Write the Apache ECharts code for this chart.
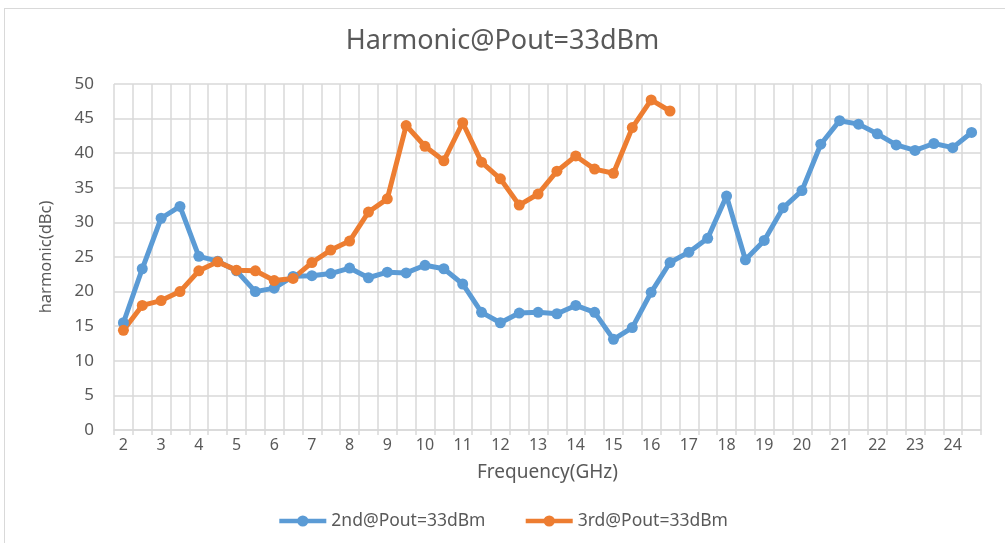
<!DOCTYPE html>
<html>
<head>
<meta charset="utf-8">
<script src="https://cdn.jsdelivr.net/npm/echarts@6/dist/echarts.min.js"></script>
<style>
    html, body { margin: 0; padding: 0; background: #fff; }
    #moldura { position: absolute; left: 4px; top: 8px; width: 1010px; height: 545px; border: 1px solid #d9d9d9; }
    #harmonicChart { position: absolute; left: 0; top: 0; width: 1005px; height: 543px; }
</style>
</head>
<body>
<div id="moldura"></div>
<div id="harmonicChart"></div>
<script>
var frequencias = ['2', '2.5', '3', '3.5', '4', '4.5', '5', '5.5', '6', '6.5', '7', '7.5', '8', '8.5', '9', '9.5',
    '10', '10.5', '11', '11.5', '12', '12.5', '13', '13.5', '14', '14.5', '15', '15.5', '16', '16.5', '17', '17.5',
    '18', '18.5', '19', '19.5', '20', '20.5', '21', '21.5', '22', '22.5', '23', '23.5', '24', '24.5'];

var segunda = [15.5, 23.3, 30.6, 32.3, 25.1, 24.4, 23.0, 20.0, 20.5, 22.2, 22.3, 22.6, 23.4, 22.0, 22.8,
    22.7, 23.8, 23.3, 21.1, 17.0, 15.5, 16.9, 17.0, 16.8, 18.0, 17.0, 13.1, 14.8, 19.9, 24.2, 25.7, 27.7,
    33.8, 24.6, 27.4, 32.1, 34.6, 41.3, 44.7, 44.2, 42.8, 41.2, 40.4, 41.4, 40.8, 43.0];

var terceira = [14.4, 18.0, 18.7, 20.0, 23.0, 24.3, 23.1, 23.0, 21.6, 21.9, 24.2, 26.0, 27.3, 31.5, 33.4,
    44.0, 41.0, 38.9, 44.4, 38.7, 36.3, 32.5, 34.1, 37.4, 39.6, 37.7, 37.1, 43.7, 47.7, 46.1,
    null, null, null, null, null, null, null, null, null, null, null, null, null, null, null, null];

var cor_texto = '#595959';
var cor_grade = '#d9d9d9';

echarts.init(document.querySelector('#harmonicChart')).setOption({
    textStyle: {
        fontFamily: 'Noto Sans'
    },
    title: {
        text: 'Harmonic@Pout=33dBm',
        left: 'center',
        top: 23,
        textStyle: {
            color: cor_texto,
            fontSize: 27,
            fontWeight: 'normal',
            fontFamily: 'Noto Sans'
        }
    },
    legend: {
        bottom: 8,
        left: 'center',
        itemWidth: 47,
        itemHeight: 14,
        itemGap: 38,
        lineStyle: { width: 4.5 },
        textStyle: {
            color: cor_texto,
            fontSize: 17.5
        },
        data: ['2nd@Pout=33dBm', '3rd@Pout=33dBm']
    },
    grid: {
        left: 114,
        right: 24,
        top: 84,
        bottom: 113
    },
    xAxis: {
        type: 'category',
        data: frequencias,
        boundaryGap: true,
        name: 'Frequency(GHz)',
        nameLocation: 'middle',
        nameGap: 33,
        nameTextStyle: {
            color: cor_texto,
            fontSize: 19
        },
        axisLine: {
            lineStyle: { color: cor_grade, width: 1.5 }
        },
        axisTick: {
            show: true,
            interval: 0,
            length: 5,
            lineStyle: { color: cor_grade, width: 1.5 }
        },
        axisLabel: {
            interval: 1,
            color: cor_texto,
            fontSize: 16,
            margin: 7
        },
        splitLine: {
            show: true,
            interval: 0,
            lineStyle: { color: cor_grade, width: 1.5 }
        }
    },
    yAxis: {
        type: 'value',
        min: 0,
        max: 50,
        interval: 5,
        name: 'harmonic(dBc)',
        nameLocation: 'middle',
        nameGap: 59,
        nameTextStyle: {
            color: cor_texto,
            fontSize: 16.5
        },
        axisLine: { show: false },
        axisTick: { show: false },
        axisLabel: {
            color: cor_texto,
            fontSize: 17,
            margin: 20
        },
        splitLine: {
            lineStyle: { color: cor_grade, width: 1.5 }
        }
    },
    series: [{
        name: '2nd@Pout=33dBm',
        type: 'line',
        data: segunda,
        symbol: 'circle',
        symbolSize: 11,
        itemStyle: { color: '#5b9bd5' },
        lineStyle: { color: '#5b9bd5', width: 5 }
    }, {
        name: '3rd@Pout=33dBm',
        type: 'line',
        data: terceira,
        symbol: 'circle',
        symbolSize: 11,
        itemStyle: { color: '#ed7d31' },
        lineStyle: { color: '#ed7d31', width: 5 }
    }]
});
</script>
</body>
</html>
